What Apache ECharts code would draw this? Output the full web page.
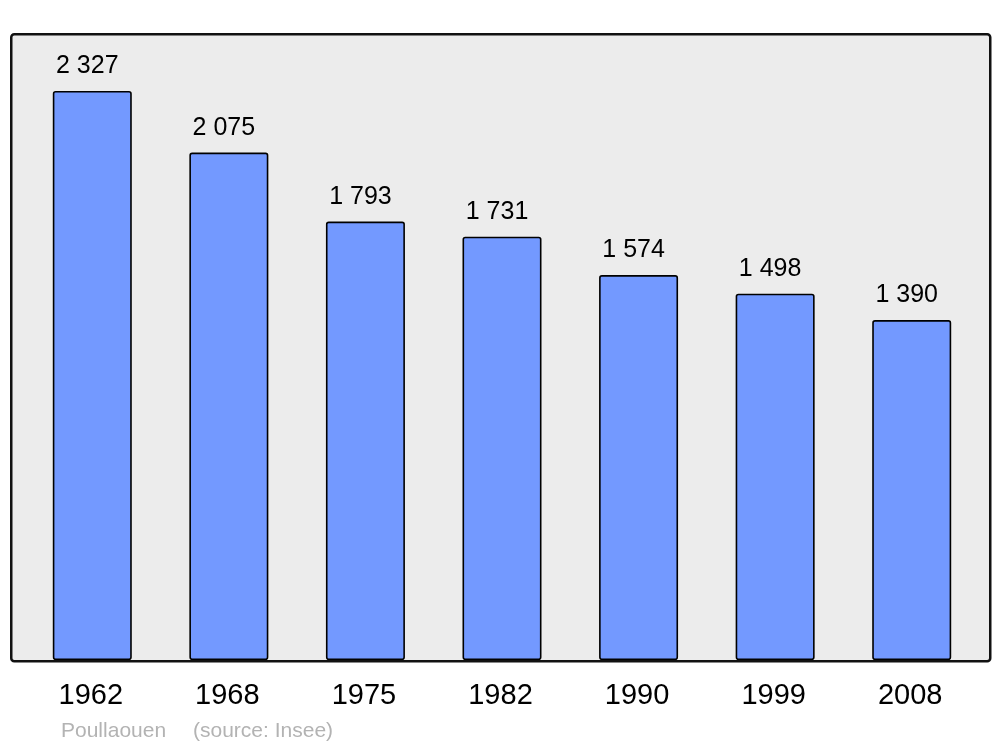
<!DOCTYPE html>
<html>
<head>
<meta charset="utf-8">
<script src="https://cdn.jsdelivr.net/npm/echarts@6/dist/echarts.min.js"></script>
<style>html,body{margin:0;padding:0;background:#fff;}#c{width:1000px;height:747px;}</style>
</head>
<body>
<div id="c"></div>
<script>
const years = ['1962', '1968', '1975', '1982', '1990', '1999', '2008'];
const population = [2327, 2075, 1793, 1731, 1574, 1498, 1390];
const placeName = 'Poullaouen';
const sourceText = '(source: Insee)';

const fmt = v => String(v).replace(/\B(?=(\d{3})+(?!\d))/g, ' ');
const FONT = '"Liberation Sans", Arial, sans-serif';

const chart = echarts.init(document.getElementById('c'), null, {renderer: 'canvas'});
chart.setOption({
  animation: false,
  backgroundColor: '#ffffff',
  graphic: [
    {type: 'rect', left: 10, top: 33, z: -10, shape: {width: 979, height: 627, r: 3},
     style: {fill: '#ececec', stroke: '#111', lineWidth: 2.5}},
    {type: 'text', left: 61, top: 721, style: {text: placeName, fill: '#b3b3b3', font: '21px ' + FONT}},
    {type: 'text', left: 193, top: 721, style: {text: sourceText, fill: '#b3b3b3', font: '21px ' + FONT}}
  ],
  grid: {left: 24, right: 20, top: 34, bottom: 87, containLabel: false},
  xAxis: {
    type: 'category', data: years,
    axisLine: {show: false}, axisTick: {show: false},
    axisLabel: {color: '#000', fontSize: 29, fontFamily: FONT, margin: 21, padding: [0, 3, 0, 0]}
  },
  yAxis: {
    type: 'value', min: 0, max: 2560,
    show: false, splitLine: {show: false}
  },
  series: [{
    type: 'bar', data: population, barWidth: 79,
    itemStyle: {color: '#7399ff', borderColor: '#000', borderWidth: 1.6, borderRadius: 2},
    label: {show: true, position: 'top', distance: 12, offset: [-5, 0], color: '#000', fontSize: 25, fontFamily: FONT,
            formatter: p => fmt(p.value)}
  }]
});
</script>
</body>
</html>
